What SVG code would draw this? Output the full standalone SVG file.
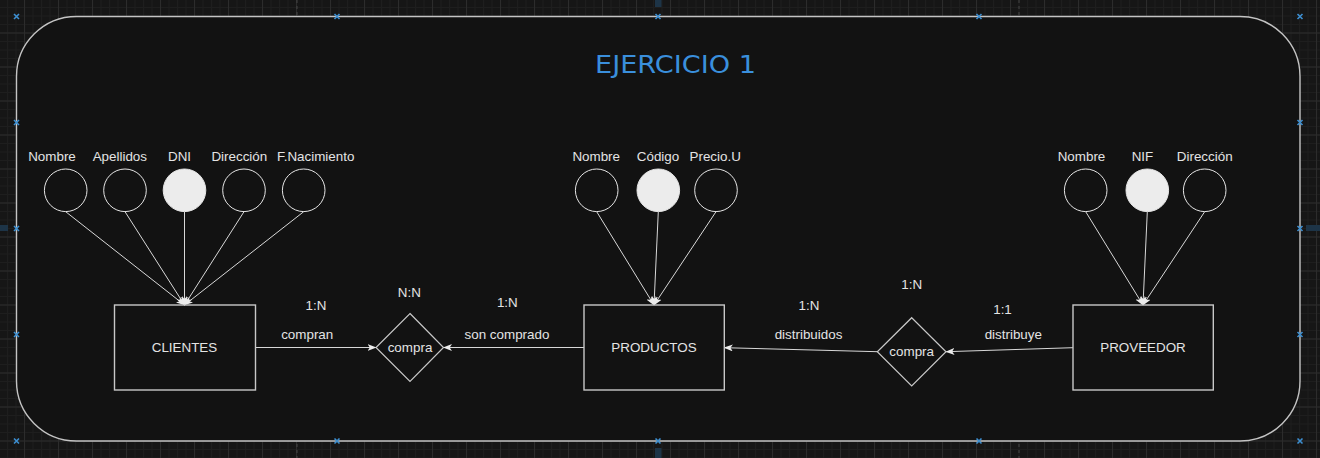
<svg xmlns="http://www.w3.org/2000/svg" width="1320" height="458" viewBox="0 0 1320 458">
<style>
  .lbl { font-family: "Liberation Sans", Arial, sans-serif; font-size: 13.4px; fill: #e4e4e4; text-anchor: middle; }
  .attr { fill: none; stroke: #e6e6e6; stroke-width: 1; }
  .key { fill: #ececec; stroke: #e6e6e6; stroke-width: 1; }
  .ent { fill: none; stroke: #c8c8c8; stroke-width: 1.4; }
  .rel { fill: none; stroke: #c8c8c8; stroke-width: 1.2; }
  .edge { fill: none; stroke: #d8d8d8; stroke-width: 1; marker-end: url(#arr); }
  .hnd { stroke: #3d8fd1; stroke-width: 1.6; fill: none; }
  .page { stroke: #444; stroke-width: 1; stroke-dasharray: 3 3; }
</style>
<defs>
  <pattern id="minor" x="24" y="32.5" width="8.5" height="8.5" patternUnits="userSpaceOnUse">
    <path d="M0 0.5 H8.5 M0.5 0 V8.5" stroke="#1e1e1e" stroke-width="1" fill="none"/>
  </pattern>
  <pattern id="major" x="24" y="32.5" width="34" height="34" patternUnits="userSpaceOnUse">
    <path d="M0 0.5 H34 M0.5 0 V34" stroke="#2c2c2c" stroke-width="1" fill="none"/>
  </pattern>
  <marker id="arr" markerWidth="9" markerHeight="7" refX="8.5" refY="3.5" orient="auto" markerUnits="userSpaceOnUse">
    <path d="M0,0 L9,3.5 L0,7 L2.3,3.5 Z" fill="#ececec"/>
  </marker>
  <g id="x">
    <path class="hnd" d="M-2.5,-2.5 L2.5,2.5 M-2.5,2.5 L2.5,-2.5"/>
  </g>
</defs>

<!-- canvas -->
<rect width="1320" height="458" fill="#161616"/>
<rect width="1320" height="458" fill="url(#minor)"/>
<rect width="1320" height="458" fill="url(#major)"/>
<line class="page" x1="297" y1="0" x2="297" y2="458"/>
<line class="page" x1="1019" y1="0" x2="1019" y2="458"/>
<rect x="655" y="0" width="6.5" height="7" fill="#1d3447"/>
<rect x="655" y="448" width="6.5" height="10" fill="#1d3447"/>
<rect x="0" y="225" width="8" height="6" fill="#1d3447"/>
<rect x="1306" y="225" width="14" height="6" fill="#1d3447"/>

<!-- container -->
<g id="container">
  <rect x="16.5" y="16.5" width="1283.5" height="424.5" rx="60" ry="60" fill="#121212" stroke="#c4c4c4" stroke-width="1.4"/>
  <text x="675.5" y="73.3" font-family="DejaVu Sans, sans-serif" font-size="25" fill="#3a8fdc" text-anchor="middle" textLength="161" lengthAdjust="spacingAndGlyphs">EJERCICIO 1</text>
</g>

<!-- connectors -->
<g id="connectors">
  <line class="edge" x1="65.7" y1="211.7" x2="184.5" y2="305"/>
  <line class="edge" x1="125" y1="211.7" x2="184.5" y2="305"/>
  <line class="edge" x1="184.5" y1="211.7" x2="184.5" y2="305"/>
  <line class="edge" x1="244" y1="211.7" x2="184.5" y2="305"/>
  <line class="edge" x1="303.7" y1="211.7" x2="184.5" y2="305"/>

  <line class="edge" x1="596.7" y1="211.7" x2="654" y2="305"/>
  <line class="edge" x1="658.3" y1="211.7" x2="654" y2="305"/>
  <line class="edge" x1="716" y1="211.7" x2="654" y2="305"/>

  <line class="edge" x1="1085.7" y1="211.7" x2="1143" y2="305"/>
  <line class="edge" x1="1147.3" y1="211.7" x2="1143" y2="305"/>
  <line class="edge" x1="1204.7" y1="211.7" x2="1143" y2="305"/>

  <line class="edge" x1="255.5" y1="347.5" x2="376" y2="347.5"/>
  <line class="edge" x1="584" y1="347.5" x2="443.5" y2="347.5"/>
  <line class="edge" x1="877.3" y1="351.7" x2="724.3" y2="347.7"/>
  <line class="edge" x1="1073" y1="347.7" x2="946" y2="351.7"/>

  <text class="lbl" x="307.2" y="339.3">compran</text>
  <text class="lbl" x="316" y="310">1:N</text>
  <text class="lbl" x="507" y="339.3">son comprado</text>
  <text class="lbl" x="507.3" y="306.7">1:N</text>
  <text class="lbl" x="808.5" y="339.3">distribuidos</text>
  <text class="lbl" x="809" y="310">1:N</text>
  <text class="lbl" x="1013.3" y="339.3">distribuye</text>
  <text class="lbl" x="1002.5" y="314.3">1:1</text>
</g>

<!-- CLIENTES attributes -->
<g id="cli-nombre"><text class="lbl" x="52" y="160.7">Nombre</text><circle class="attr" cx="65.7" cy="190.3" r="21.3"/></g>
<g id="cli-apellidos"><text class="lbl" x="119.8" y="160.7">Apellidos</text><circle class="attr" cx="125" cy="190.3" r="21.3"/></g>
<g id="cli-dni"><text class="lbl" x="179.5" y="160.7">DNI</text><circle class="key" cx="184.5" cy="190.3" r="21.3"/></g>
<g id="cli-direccion"><text class="lbl" x="239.3" y="160.7">Dirección</text><circle class="attr" cx="244" cy="190.3" r="21.3"/></g>
<g id="cli-fnac"><text class="lbl" x="315.7" y="160.7">F.Nacimiento</text><circle class="attr" cx="303.7" cy="190.3" r="21.3"/></g>

<!-- PRODUCTOS attributes -->
<g id="prod-nombre"><text class="lbl" x="596.2" y="160.7">Nombre</text><circle class="attr" cx="596.7" cy="190.3" r="21.3"/></g>
<g id="prod-codigo"><text class="lbl" x="658" y="160.7">Código</text><circle class="key" cx="658.3" cy="190.3" r="21.3"/></g>
<g id="prod-precio"><text class="lbl" x="715.2" y="160.7">Precio.U</text><circle class="attr" cx="716" cy="190.3" r="21.3"/></g>

<!-- PROVEEDOR attributes -->
<g id="prov-nombre"><text class="lbl" x="1081.5" y="160.7">Nombre</text><circle class="attr" cx="1085.7" cy="190.3" r="21.3"/></g>
<g id="prov-nif"><text class="lbl" x="1142.5" y="160.7">NIF</text><circle class="key" cx="1147.3" cy="190.3" r="21.3"/></g>
<g id="prov-direccion"><text class="lbl" x="1204.7" y="160.7">Dirección</text><circle class="attr" cx="1204.7" cy="190.3" r="21.3"/></g>

<!-- entities -->
<g id="clientes"><rect class="ent" x="114.5" y="305" width="141" height="85"/><text class="lbl" x="184.5" y="352.3">CLIENTES</text></g>
<g id="productos"><rect class="ent" x="584" y="305" width="140.3" height="85"/><text class="lbl" x="654" y="352.3">PRODUCTOS</text></g>
<g id="proveedor"><rect class="ent" x="1073" y="305" width="140.3" height="85"/><text class="lbl" x="1143" y="352.3">PROVEEDOR</text></g>

<!-- relationships -->
<g id="compra1"><path class="rel" d="M410,313.5 L443.5,347.5 L410,381.5 L376,347.5 Z"/><text class="lbl" x="410" y="352">compra</text><text class="lbl" x="409.3" y="296.7">N:N</text></g>
<g id="compra2"><path class="rel" d="M911.7,317.7 L946,351.7 L911.7,386 L877.3,351.7 Z"/><text class="lbl" x="911.7" y="356.2">compra</text><text class="lbl" x="911.7" y="289">1:N</text></g>

<!-- connection handles -->
<g id="handles">
  <use href="#x" x="16.5" y="16.5"/><use href="#x" x="337" y="16.5"/><use href="#x" x="658" y="16.5"/><use href="#x" x="979" y="16.5"/><use href="#x" x="1300" y="16.5"/>
  <use href="#x" x="16.5" y="441"/><use href="#x" x="337" y="441"/><use href="#x" x="658" y="441"/><use href="#x" x="979" y="441"/><use href="#x" x="1300" y="441"/>
  <use href="#x" x="16.5" y="122.5"/><use href="#x" x="16.5" y="228.5"/><use href="#x" x="16.5" y="334.5"/>
  <use href="#x" x="1300" y="122.5"/><use href="#x" x="1300" y="228.5"/><use href="#x" x="1300" y="334.5"/>
</g>
</svg>
